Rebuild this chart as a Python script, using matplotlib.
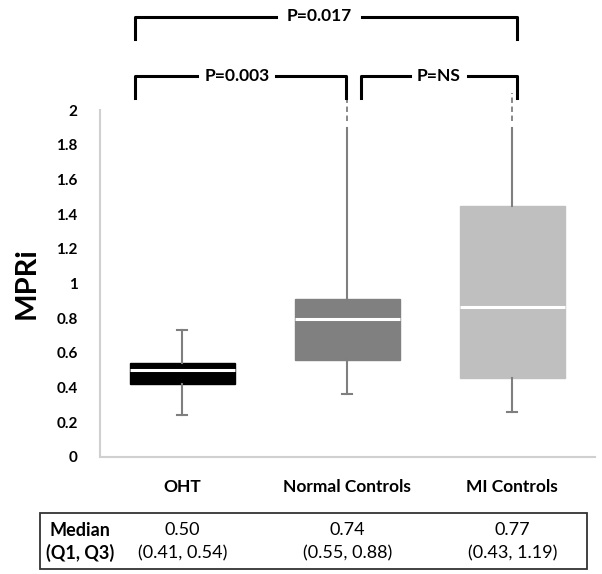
import matplotlib.pyplot as plt
import numpy as np

plt.rcParams['font.family'] = ['Lato', 'DejaVu Sans']

groups = ["OHT", "Normal Controls", "MI Controls"]
q1_vals = [0.42, 0.56, 0.455]
med_vals = [0.50, 0.795, 0.865]
q3_vals = [0.54, 0.91, 1.45]
lo_vals = [0.24, 0.36, 0.26]
hi_vals = [0.73, 1.90, 1.90]
box_colors = ["#000000", "#808080", "#bfbfbf"]
yticks = [0, 0.2, 0.4, 0.6, 0.8, 1, 1.2, 1.4, 1.6, 1.8, 2]
tbl_median = ["0.50", "0.74", "0.77"]
tbl_iqr = ["(0.41, 0.54)", "(0.55, 0.88)", "(0.43, 1.19)"]

fig = plt.figure(figsize=(6.02, 5.74), dpi=100)
ax = fig.add_axes([0.166, 0.204, 0.822, 0.604])

pos = np.arange(1, len(groups) + 1)
stats = []
for i in range(len(groups)):
    stats.append({"med": med_vals[i], "q1": q1_vals[i], "q3": q3_vals[i],
                  "whislo": lo_vals[i], "whishi": hi_vals[i], "fliers": []})

bp = ax.bxp(stats, positions=pos, widths=0.64, patch_artist=True,
            showfliers=False, capwidths=0.06)
for i, b in enumerate(bp['boxes']):
    b.set_facecolor(box_colors[i])
    b.set_edgecolor(box_colors[i])
for m in bp['medians']:
    m.set_color("white")
    m.set_linewidth(2.2)
for w in bp['whiskers']:
    w.set_color("#7f7f7f")
    w.set_linewidth(1.5)
for c in bp['caps']:
    c.set_color("#7f7f7f")
    c.set_linewidth(1.5)
# upper whiskers of the controls continue off the scale
bp['caps'][3].set_visible(False)
bp['caps'][5].set_visible(False)
for p in pos[1:]:
    ax.plot([p, p], [1.94, 2.10], ls=(0, (3, 2)), color="#7f7f7f", lw=1.3, clip_on=False)

ax.set_xlim(0.5, 3.5)
ax.set_ylim(0, 2)
ax.set_yticks(yticks)
ax.set_yticklabels([f"{t:g}" for t in yticks], fontsize=11, fontweight='bold')
ax.set_xticks(pos)
ax.set_xticklabels(groups, fontsize=12.5, fontweight='bold')
ax.tick_params(length=0, pad=16)
ax.tick_params(axis='x', pad=16)
ax.spines['top'].set_visible(False)
ax.spines['right'].set_visible(False)
ax.spines['left'].set_color("#d0d0d0")
ax.spines['bottom'].set_color("#d0d0d0")
ax.spines['left'].set_linewidth(1.5)
ax.spines['bottom'].set_linewidth(1.5)
ax.set_ylabel("MPRi", fontsize=21, fontweight='bold', labelpad=12)


def bracket(x0, x1, ytop, ybot, label, gap0, gap1, ty):
    kw = dict(color="black", lw=2.2, clip_on=False)
    ax.plot([x0, x0, gap0], [ybot, ytop, ytop], **kw)
    ax.plot([gap1, x1, x1], [ytop, ytop, ybot], **kw)
    ax.text((gap0 + gap1) / 2, ty, label, ha='center', va='center',
            fontsize=12.5, fontweight='bold', clip_on=False)


bracket(0.712, 3.03, 2.54, 2.41, "P=0.017", 1.57, 2.09, 2.545)
bracket(0.712, 1.99, 2.196, 2.07, "P=0.003", 1.09, 1.57, 2.20)
bracket(2.08, 3.03, 2.196, 2.07, "P=NS", 2.38, 2.73, 2.20)

# summary table under the chart
fig.patches.append(plt.Rectangle((40 / 602, 1 - 569 / 574), 547 / 602, 56 / 574,
                                 transform=fig.transFigure, fill=False,
                                 edgecolor="#333333", lw=1.3))
fig.text(80 / 602, 1 - 530 / 574, "Median", ha='center', va='center',
         fontsize=13, fontweight='bold')
fig.text(80 / 602, 1 - 553 / 574, "(Q1, Q3)", ha='center', va='center',
         fontsize=13, fontweight='bold')
for i in range(len(groups)):
    xf = ax.transData.transform((pos[i], 0))[0] / fig.bbox.width
    fig.text(xf, 1 - 530 / 574, tbl_median[i], ha='center', va='center', fontsize=13)
    fig.text(xf, 1 - 553 / 574, tbl_iqr[i], ha='center', va='center', fontsize=13)

fig.savefig("out.png", dpi=100)
